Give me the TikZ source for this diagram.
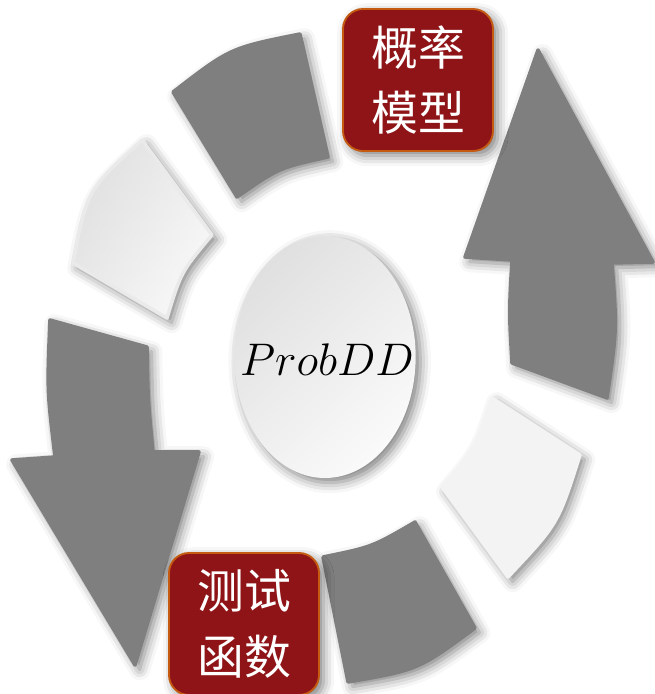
\RequirePackage{fix-cm}
\documentclass[tikz,border=0pt]{standalone}
\usepackage{fontspec}
\newfontfamily\cjk{Noto Sans CJK SC}
\usetikzlibrary{shadows.blur}
\definecolor{segdark}{HTML}{7F7F7F}
\definecolor{seglightA}{HTML}{E0E0E0}
\definecolor{seglightB}{HTML}{F8F8F8}
\definecolor{seglightC}{HTML}{F3F3F3}
\definecolor{coreA}{HTML}{E0E0E0}
\definecolor{coreB}{HTML}{FAFAFA}
\definecolor{boxred}{HTML}{8E1417}
\definecolor{boxedge}{HTML}{C55A11}
\begin{document}
\begin{tikzpicture}[x=0.03cm,y=-0.03cm,
  shad/.style={blur shadow={shadow xshift=4pt,shadow yshift=-4pt,shadow blur radius=9pt,shadow opacity=50}},
  darkseg/.style={shad, fill=segdark, draw=segdark, line width=3pt, line join=round},
  lightseg/.style={shad, top color=seglightA, bottom color=seglightB, shading angle=60,
    draw=seglightA!60!seglightB, line width=3pt, line join=round},
  flatseg/.style={shad, fill=seglightC, draw=seglightC, line width=3pt, line join=round},
  redbox/.style={shad, fill=boxred, draw=boxedge, line width=1.6pt, rounded corners=0.6cm,
    minimum width=4.5cm, minimum height=4.26cm, inner sep=0pt, text=white, align=center,
    font=\cjk\fontsize{40}{56}\selectfont},
  coretext/.style={font=\fontsize{39}{47}\selectfont, inner sep=0pt}]
\useasboundingbox (0,0) rectangle (655,694);
\clip (0,0) rectangle (655,694);

% top dark segment
\path[darkseg] (173,92) .. controls (230,48) .. (300,34) -- (328,157)
  .. controls (278.5,168) .. (237,197) -- cycle;
% upper-left light segment
\path[lightseg] (142,140) -- (212,235) .. controls (181,272) .. (167,318)
  -- (73,263) .. controls (87,190) .. (142,140) -- cycle;
% right big arrow (up)
\path[darkseg] (538,50) -- (653,262) -- (612,263) .. controls (617,330) .. (607,398)
  -- (512,363) .. controls (509,312) .. (512,260) -- (465,257) -- cycle;
% lower-right light segment
\path[flatseg] (492,398) -- (580,455) .. controls (558,524) .. (508,577)
  -- (442,487) .. controls (476,447) .. (492,398) -- cycle;
% bottom dark segment
\path[darkseg] (323,557) .. controls (372,547) .. (415,522) -- (475,628)
  .. controls (418,670) .. (348,682) -- cycle;
% left big arrow (down)
\path[darkseg] (50,320) -- (147,347) .. controls (148,400) .. (153,452) -- (199,452)
  -- (135,665) -- (12,460) -- (55,457) .. controls (47,390) .. (50,320) -- cycle;

% centre
\path[shad, top color=coreA, bottom color=coreB, shading angle=45] (325,357) ellipse [x radius=2.72cm, y radius=3.63cm];
\node[coretext] (core) at (327,360) {$ProbDD$};

% labels
\node[redbox] (model) at (418,80) {概率\\模型};
\node[redbox] (testfn) at (244,624) {测试\\函数};
\end{tikzpicture}
\end{document}
